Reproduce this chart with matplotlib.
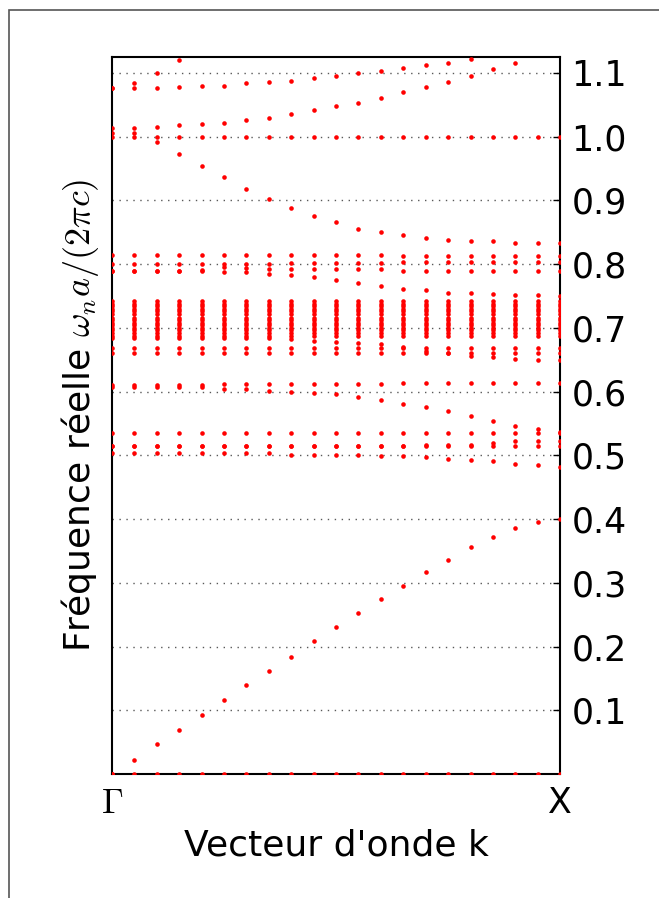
import numpy as np
import matplotlib
matplotlib.use("Agg")
import matplotlib.pyplot as plt
from matplotlib.patches import Rectangle

plt.rcParams["mathtext.fontset"] = "cm"
plt.rcParams["font.family"] = ["DejaVu Sans"]

# k points from Gamma to X (units of 2*pi/a)
k = [0.0, 0.025, 0.05, 0.075, 0.1, 0.125, 0.15, 0.175, 0.2, 0.225, 0.25,
     0.275, 0.3, 0.325, 0.35, 0.375, 0.4, 0.425, 0.45, 0.475, 0.5]

nan = np.nan

# dispersive / flat bands (one value per k point)
band_zero = [0.0] * 21
band_light = [0.0, 0.0224, 0.0466, 0.069, 0.093, 0.1155, 0.1395, 0.1615, 0.184,
              0.208, 0.2305, 0.2524, 0.2749, 0.2948, 0.317, 0.3355, 0.3554,
              0.3716, 0.3857, 0.3956, 0.400]
band_050 = [0.503, 0.503, 0.503, 0.503, 0.503, 0.503, 0.503, 0.503, 0.5007,
            0.5007, 0.5007, 0.5008, 0.4987, 0.4987, 0.4967, 0.4946, 0.4925,
            0.4904, 0.4867, 0.4846, 0.482]
band_0515a = [0.515] * 21
band_0515b = [0.515] * 14 + [0.517, 0.517, 0.517, 0.5196, 0.5223, 0.5223, 0.523]
band_0535 = [0.5353] * 21
band_061_desc = [0.608, 0.608, 0.608, 0.608, 0.608, 0.6036, 0.6042, 0.6016,
                 0.5995, 0.5974, 0.5958, 0.5916, 0.5874, 0.5812, 0.576, 0.5693,
                 0.5615, 0.5536, 0.5458, 0.5416, 0.537]
band_061_flat = [0.610] * 5 + [0.6127] * 8 + [0.613] * 8
band_066 = [0.6605] * 21
band_067 = [0.669] * 21
band_068_desc = [0.684] * 8 + [0.682, 0.680, 0.678, 0.677, 0.675, 0.670, 0.664,
                               0.661, 0.656, 0.655, 0.651, 0.650, 0.649]
# nearly flat resonance bands packed between 0.684 and 0.742
dense_levels = [0.688, 0.692, 0.696, 0.700, 0.704, 0.708, 0.712, 0.716,
                0.722, 0.726, 0.730, 0.734, 0.738, 0.742]
band_079_desc = [0.789, 0.789, 0.789, 0.789, 0.789, 0.787, 0.787, 0.785, 0.7834,
                 0.7792, 0.775, 0.7709, 0.7651, 0.761, 0.7589, 0.7552, 0.7552,
                 0.7531, 0.751, 0.751, 0.750]
band_079 = [0.789, 0.789, 0.789, 0.790, 0.791, 0.795, 0.794, 0.793, 0.792,
            0.792, 0.792, 0.792, 0.792, 0.790, 0.789, 0.789, 0.789, 0.789,
            0.789, 0.789, 0.789]
band_080 = [0.800] * 8 + [0.802] * 5 + [0.8035] * 8
band_081 = [0.8138] * 13 + [0.812] * 8
band_100_desc = [1.005, 1.005, 0.991, 0.9726, 0.954, 0.9366, 0.918, 0.902, 0.888,
                 0.876, 0.8666, 0.8555, 0.8498, 0.8456, 0.8415, 0.838, 0.8357,
                 0.8357, 0.8334, 0.8334, 0.833]
band_100 = [1.0] * 21
band_101_asc = [1.0134, 1.0134, 1.0149, 1.0176, 1.0197, 1.0217, 1.0254, 1.0296,
                1.0359, 1.0416, 1.0479, 1.0536, 1.0614, 1.0698, 1.0777, 1.086,
                1.0959, 1.1059, 1.1158, nan, nan]
band_108 = [1.0761, 1.0761, 1.0761, 1.0777, 1.0797, 1.0797, 1.0839, 1.086,
            1.0881, 1.0923, 1.0959, 1.1001, 1.1038, 1.108, 1.1121, 1.1158,
            1.122, nan, nan, nan, nan]
band_108_steep = [1.0761, 1.0839, 1.1001, 1.1205] + [nan] * 17

bands = [band_zero, band_light, band_050, band_0515a, band_0515b, band_0535,
         band_061_desc, band_061_flat, band_066, band_067, band_068_desc,
         band_079_desc, band_079, band_080, band_081, band_100_desc, band_100,
         band_101_asc, band_108, band_108_steep]

yticks = [0.1, 0.2, 0.3, 0.4, 0.5, 0.6, 0.7, 0.8, 0.9, 1.0, 1.1]

fig = plt.figure(figsize=(6.59, 8.98), dpi=100)
ax = fig.add_axes([0.170, 0.1381, 0.680, 0.7984])

for b in bands:
    ax.plot(k, b, "o", color="red", ms=3.3, mec="none", zorder=3)
for lev in dense_levels:
    ax.plot(k, [lev] * len(k), "o", color="red", ms=3.3, mec="none", zorder=3)

ax.set_xlim(0, 0.5)
ax.set_ylim(0, 1.125)
ax.set_xticks([0, 0.5])
ax.set_xticklabels([r"$\Gamma$", "X"], fontsize=25)
ax.set_yticks(yticks)
ax.set_yticklabels([f"{t:.1f}" for t in yticks], fontsize=25)
ax.yaxis.tick_right()
ax.yaxis.set_label_position("left")
ax.tick_params(axis="y", direction="in", length=5, width=1, pad=8)
ax.tick_params(axis="x", direction="in", length=0, pad=9)
ax.yaxis.grid(True, linestyle=(0, (1, 4)), color="0.35", lw=1)
for sp in ax.spines.values():
    sp.set_linewidth(1.5)

ax.set_xlabel("Vecteur d'onde k", fontsize=26, labelpad=6)
ax.set_ylabel(r"Fréquence réelle $\omega_n a/(2\pi c)$", fontsize=26, labelpad=8)

# outer frame of the screenshot
fig.add_artist(Rectangle((9 / 659, -0.05), 1.2, 1.05 - 10 / 898,
                         transform=fig.transFigure, fill=False,
                         edgecolor="#555555", lw=1.2))

fig.savefig("out.png", dpi=100)
